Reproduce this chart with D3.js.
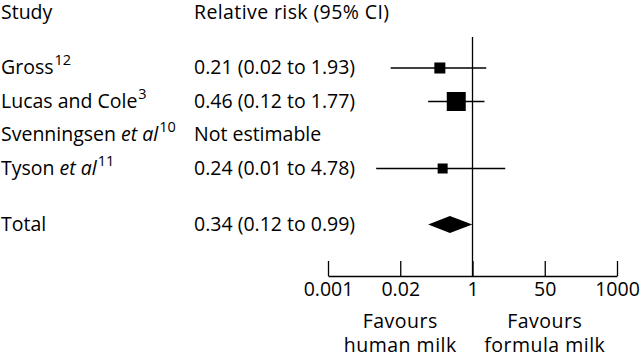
<!DOCTYPE html>
<html>
<head>
<meta charset="utf-8">
<script src="https://cdn.jsdelivr.net/npm/d3@7"></script>
<style>
	body { margin: 0; background: #fff; }
	svg text { font-family: "Open Sans", sans-serif; fill: #000; }
</style>
</head>
<body>
<div id="chart"></div>
<script>
// study rows
let studies = ["Gross", "Lucas and Cole", "Svenningsen", "Tyson"];
let italics = ["", "", " et al", " et al"];
let refs = ["12", "3", "10", "11"];
let rr = [0.21, 0.46, null, 0.24];
let lower = [0.02, 0.12, null, 0.01];
let upper = [1.93, 1.77, null, 4.78];
let weights = [11, 19, 0, 10];   // square side
let rrText = ["0.21 (0.02 to 1.93)", "0.46 (0.12 to 1.77)", "Not estimable", "0.24 (0.01 to 4.78)"];

// pooled
let totalRR = 0.34, totalLo = 0.12, totalHi = 0.99;
let totalText = "0.34 (0.12 to 0.99)";

// axis
let tickLabels = ["0.001", "0.02", "1", "50", "1000"];

function graph(){

	let width = 640, height = 354;

	let svg = d3.select("#chart")
		.append("svg")
		.attr("width", width)
		.attr("height", height);

	let fs = 19.5;

	//scales
	let xScale = d3.scaleLog()
		.domain([0.001, 1000])
		.range([328, 617]);

	let tickScale = d3.scalePoint()
		.domain(tickLabels)
		.range([328, 617]);

	let rowY = d3.scaleLinear()
		.domain([0, 1])
		.range([68, 101.5]);
	let totalY = 224.5;
	let axisY = 276;

	//headers
	svg.append("text").attr("x", 1).attr("y", 19).attr("font-size", fs).text("Study");
	svg.append("text").attr("x", 194).attr("y", 19).attr("font-size", fs)
		.attr("letter-spacing", 0.4).text("Relative risk (95% CI)");

	//line of no effect
	svg.append("line")
		.attr("x1", xScale(1)).attr("x2", xScale(1))
		.attr("y1", 37).attr("y2", axisY)
		.attr("stroke", "#000").attr("stroke-width", 1.3);

	//study labels
	studies.forEach((s, i)=>{
		let t = svg.append("text")
			.attr("x", 1)
			.attr("y", rowY(i) + 6)
			.attr("font-size", fs);
		t.append("tspan").text(s);
		if (italics[i]) t.append("tspan").attr("font-style", "italic").text(italics[i]);
		t.append("tspan").attr("font-size", 14.5).attr("dy", -9).attr("dx", 1).text(refs[i]);

		svg.append("text")
			.attr("x", 194)
			.attr("y", rowY(i) + 6)
			.attr("font-size", fs)
			.text(rrText[i]);

		if (rr[i] !== null) {
			svg.append("line")
				.attr("x1", xScale(lower[i])).attr("x2", xScale(upper[i]))
				.attr("y1", rowY(i)).attr("y2", rowY(i))
				.attr("stroke", "#000").attr("stroke-width", 1.3);
			svg.append("rect")
				.attr("x", xScale(rr[i]) - weights[i]/2)
				.attr("y", rowY(i) - weights[i]/2)
				.attr("width", weights[i])
				.attr("height", weights[i])
				.attr("fill", "#000");
		}
	});

	//total
	svg.append("text").attr("x", 1).attr("y", totalY + 6).attr("font-size", fs).text("Total");
	svg.append("text").attr("x", 194).attr("y", totalY + 6).attr("font-size", fs).text(totalText);

	let dh = 8.5;
	svg.append("path")
		.attr("d", `M${xScale(totalLo)},${totalY} L${xScale(totalRR)},${totalY - dh} L${xScale(totalHi)},${totalY} L${xScale(totalRR)},${totalY + dh} Z`)
		.attr("fill", "#000");

	//axis
	let xAxis = d3.axisBottom(tickScale)
		.tickSize(-15)
		.tickPadding(7)
		.tickSizeOuter(0);

	let gx = svg.append("g")
		.attr("class", "axis")
		.attr("transform", `translate(0,${axisY})`)
		.call(xAxis);

	gx.select(".domain").attr("stroke-width", 1.3);
	gx.selectAll(".tick line").attr("stroke-width", 1.3);
	gx.selectAll("text")
		.attr("font-family", "'Open Sans', sans-serif")
		.attr("font-size", fs)
		.attr("dy", "0.68em");

	//favours labels
	let fav = [["Favours", "human milk", "0.02"], ["Favours", "formula milk", "50"]];
	fav.forEach((f)=>{
		let t = svg.append("text")
			.attr("text-anchor", "middle")
			.attr("font-size", fs)
			.attr("letter-spacing", 0.5);
		t.append("tspan").attr("x", tickScale(f[2])).attr("y", 328).text(f[0]);
		t.append("tspan").attr("x", tickScale(f[2])).attr("y", 351.5).text(f[1]);
	});
}

graph();
</script>
</body>
</html>
